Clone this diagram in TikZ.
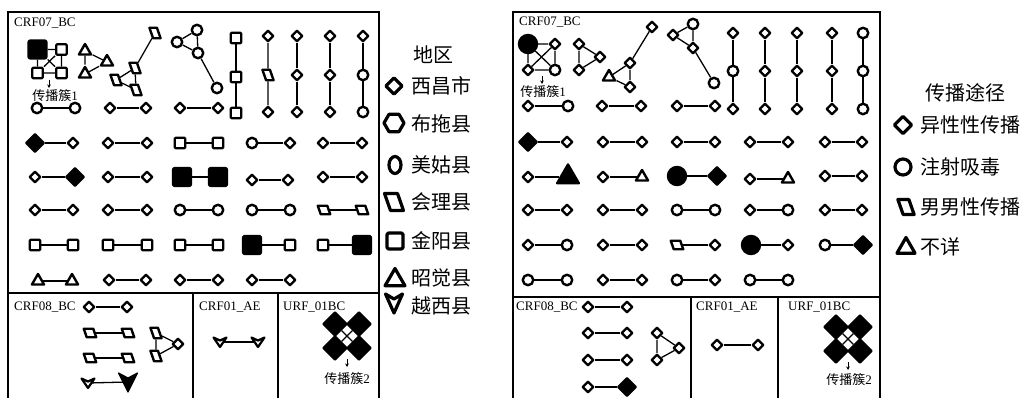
\documentclass[tikz,border=0pt]{standalone}
\usepackage{fontspec}
\setmainfont{Liberation Serif}
\newfontfamily\cjk{Noto Sans CJK SC}
\usetikzlibrary{shapes.geometric,arrows.meta}

\tikzset{
  glyph/.style={draw, line width=2.4pt, fill=white, inner sep=0pt, line join=round},
  dia/.style={glyph, diamond, minimum size=11.5pt},
  fdia/.style={dia, fill=black, minimum size=18.5pt},
  cir/.style={glyph, circle, minimum size=10.5pt},
  fcir/.style={cir, fill=black, minimum size=18pt},
  sq/.style={glyph, rectangle, minimum size=10.5pt, rounded corners=1pt},
  fsq/.style={sq, fill=black, minimum size=18pt, rounded corners=2pt},
  tri/.style={glyph, regular polygon, regular polygon sides=3, minimum size=14pt},
  ftri/.style={tri, fill=black, minimum size=25pt},
  par/.style={glyph, rectangle, minimum width=7.5pt, minimum height=10.5pt, xslant=-0.35},
  parw/.style={par, minimum width=9.5pt, minimum height=8.5pt},
  urf/.style={fdia, minimum size=24pt},
  vcore/.style={circle, inner sep=0pt, minimum size=7pt},
  link/.style={line width=1.3pt},
  pointer/.style={line width=1pt, -{Stealth[length=3.5pt, width=3.5pt]}},
  frame/.style={line width=1.6pt},
  legendline/.style={line width=3.2pt},
  tag/.style={inner sep=0pt, font=\fontsize{13}{13}\selectfont},
  keyhead/.style={inner sep=0pt, font=\fontsize{20}{20}\selectfont\cjk},
  key/.style={keyhead, anchor=west},
  chevron/.pic={
    \draw[line width=2.2pt, line join=round, fill=white]
      (-6.5,-4.5) -- (0,-1.5) -- (6.5,-4.5) -- (0,5) -- cycle;
    \node[vcore] (-c) at (0,0) {};},
  fchevron/.pic={
    \draw[line width=1.2pt, line join=round, fill=black]
      (-9.5,-9) -- (0,-4) -- (9.5,-9) -- (0,10) -- cycle;
    \node[vcore, minimum size=9pt] (-c) at (0,0) {};},
  lchevron/.pic={
    \draw[line width=3.2pt, line join=round, fill=white]
      (-8.5,-9) -- (0,-4) -- (8.5,-9) -- (0,10) -- cycle;
    \node[vcore] (-c) at (0,0) {};},
}

% two linked marks on one row: name, y, x1, style1, x2, style2
\newcommand\linkpair[6]{%
  \node[#4] (#1a) at (#3,#2) {};
  \node[#6] (#1b) at (#5,#2) {};
  \draw[link] (#1a) -- (#1b);}
% three linked marks in one column: name, x, y1, y2, y3, style1, style2, style3
\newcommand\linkcol[8]{%
  \node[#6] (#1a) at (#2,#3) {};
  \node[#7] (#1b) at (#2,#4) {};
  \node[#8] (#1c) at (#2,#5) {};
  \draw[link] (#1a) -- (#1b) -- (#1c);}

\begin{document}
\begin{tikzpicture}[x=1pt,y=-1pt]
\useasboundingbox (0,0) rectangle (1033,398);

%================ 地区 panel ================
\draw[frame] (8,12) rectangle (379,293);
\draw[frame] (8,293) -- (8,398) (193,293) -- (193,398)
             (278,293) -- (278,398) (379,293) -- (379,398);

\node[tag, anchor=west] (Lname07) at (14,23) {CRF07\_BC};

% cluster 1
\node[fsq] (Lk1) at (37.5,49.5) {};
\node[sq]  (Lk2) at (61.5,49.5) {};
\node[sq]  (Lk3) at (37.5,73) {};
\node[sq]  (Lk4) at (61.5,73) {};
\draw[link] (Lk1) -- (Lk2) (Lk3) -- (Lk4) (Lk1) -- (Lk3) (Lk2) -- (Lk4)
            (Lk1) -- (Lk4) (Lk2) -- (Lk3);
\coordinate (LarA) at (49,80);
\coordinate (LarB) at (49,88);
\draw[pointer] (LarA) -- (LarB);
\node[tag] (Lcl1) at (55,96) {{\cjk 传播簇}1};

% triangle group
\node[tri] (Lt1) at (85,51) {};
\node[tri] (Lt2) at (107,62) {};
\node[tri] (Lt3) at (85,74) {};
\draw[link] (Lt1) -- (Lt3) (Lt1) -- (Lt2) (Lt2) -- (Lt3);

% parallelogram group
\node[par] (Lp1) at (155,33) {};
\node[par] (Lp2) at (135,68) {};
\node[par] (Lp3) at (116,80) {};
\node[par] (Lp4) at (136,90) {};
\draw[link] (Lp1) -- (Lp2) (Lp2) -- (Lp3) (Lp2) -- (Lp4) (Lp3) -- (Lp4);

% circle group
\node[cir] (Lo1) at (197,30) {};
\node[cir] (Lo2) at (177,42) {};
\node[cir] (Lo3) at (198,53) {};
\node[cir] (Lo4) at (217,88) {};
\draw[link] (Lo1) -- (Lo2) (Lo1) -- (Lo3) (Lo2) -- (Lo3) (Lo3) -- (Lo4);

% vertical chains
\linkcol{Lc1}{236}{38}{77}{113}{sq}{sq}{sq}
\linkcol{Lc2}{268}{36}{75}{112}{dia}{par}{dia}
\linkcol{Lc3}{297}{36}{75}{112}{dia}{dia}{dia}
\linkcol{Lc4}{330}{36}{75}{112}{dia}{dia}{dia}
\linkcol{Lc5}{363}{36}{75}{112}{dia}{cir}{cir}

% pairs
\linkpair{Lr1}{108}{37}{cir}{75}{cir}
\linkpair{Lr2}{108}{110}{dia}{146}{dia}
\linkpair{Lr3}{108}{180}{dia}{218}{dia}

\linkpair{L11}{143}{35}{fdia}{73}{dia}
\linkpair{L12}{143}{108}{dia}{147}{dia}
\linkpair{L13}{143}{180}{sq}{218}{sq}
\linkpair{L14}{143}{252}{cir}{290}{dia}
\linkpair{L15}{143}{323}{dia}{362}{dia}

\linkpair{L21}{177}{35}{dia}{75}{fdia}
\linkpair{L22}{177}{108}{dia}{147}{dia}
\linkpair{L23}{177}{182}{fsq}{218}{fsq}
\linkpair{L24}{180}{252}{dia}{288}{dia}
\linkpair{L25}{177}{323}{dia}{362}{dia}

\linkpair{L31}{210}{35}{dia}{73}{dia}
\linkpair{L32}{210}{108}{dia}{147}{dia}
\linkpair{L33}{210}{180}{cir}{218}{cir}
\linkpair{L34}{210}{252}{cir}{290}{cir}
\linkpair{L35}{210}{324}{parw}{362}{parw}

\linkpair{L41}{245}{35}{sq}{73}{sq}
\linkpair{L42}{245}{108}{sq}{147}{sq}
\linkpair{L43}{245}{180}{sq}{218}{sq}
\linkpair{L44}{245}{252}{fsq}{290}{sq}
\linkpair{L45}{245}{323}{sq}{362}{fsq}

\linkpair{L51}{281}{38}{tri}{72}{tri}
\linkpair{L52}{280}{109}{dia}{146}{dia}
\linkpair{L53}{280}{180}{dia}{218}{dia}
\linkpair{L54}{280}{252}{dia}{290}{dia}

% CRF08_BC
\node[tag, anchor=west] (Lname08) at (14,307) {CRF08\_BC};
\linkpair{Lb1}{307}{89}{dia}{127}{dia}
\linkpair{Lb2}{333}{90}{parw}{128}{parw}
\linkpair{Lb3}{358}{90}{parw}{128}{parw}
\node[par] (Lq1) at (156,333) {};
\node[par] (Lq2) at (156,356) {};
\node[dia] (Lq3) at (178,344) {};
\draw[link] (Lq1) -- (Lq2) (Lq1) -- (Lq3) (Lq2) -- (Lq3);
\pic (Lv1) at (88,383) {chevron};
\pic (Lv2) at (128,382) {fchevron};
\draw[link] (Lv1-c) -- (Lv2-c);

% CRF01_AE
\node[tag, anchor=west] (Lname01) at (199,307) {CRF01\_AE};
\pic (Lv3) at (220,342) {chevron};
\pic (Lv4) at (258,342) {chevron};
\draw[link] (Lv3-c) -- (Lv4-c);

% URF_01BC
\node[tag, anchor=west] (LnameU) at (283,307) {URF\_01BC};
\node[urf] (Lu1) at (335,324) {};
\node[urf] (Lu2) at (359,324) {};
\node[urf] (Lu3) at (335,348) {};
\node[urf] (Lu4) at (359,348) {};
\draw[link] (Lu1) -- (Lu4) (Lu2) -- (Lu3);
\coordinate (LarC) at (347,359);
\coordinate (LarD) at (347,367);
\draw[pointer] (LarC) -- (LarD);
\node[tag] (Lcl2) at (347,379) {{\cjk 传播簇}2};

% legend 地区
\node[keyhead] (Lhead) at (433,55) {地区};
\node[dia, legendline, minimum size=17.5pt] (Lg1) at (394,86) {};
\node[key] (Lk1t) at (411,86) {西昌市};
\node[glyph, legendline, regular polygon, regular polygon sides=6, minimum size=20pt] (Lg2) at (394,123) {};
\node[key] (Lk2t) at (411,124) {布拖县};
\node[glyph, legendline, ellipse, minimum width=12pt, minimum height=17pt] (Lg3) at (395,165) {};
\node[key] (Lk3t) at (411,165) {美姑县};
\node[par, legendline, minimum width=13pt, minimum height=17pt] (Lg4) at (394,202) {};
\node[key] (Lk4t) at (411,202) {会理县};
\node[sq, legendline, minimum size=16pt, rounded corners=1.5pt] (Lg5) at (395,241) {};
\node[key] (Lk5t) at (411,241) {金阳县};
\node[tri, legendline, minimum size=23pt] (Lg6) at (395,280) {};
\node[key] (Lk6t) at (411,278) {昭觉县};
\pic (Lg7) at (394,303) {lchevron};
\node[key] (Lk7t) at (411,306) {越西县};

%================ 传播途径 panel ================
\draw[frame] (513,12) rectangle (880,297);
\draw[frame] (513,297) -- (513,398) (691,297) -- (691,398)
             (778,297) -- (778,398) (880,297) -- (880,398);

\node[tag, anchor=west] (Rname07) at (519,22) {CRF07\_BC};

% cluster 1
\node[fcir] (Rk1) at (528,44) {};
\node[dia]  (Rk2) at (555,44) {};
\node[dia]  (Rk3) at (528,70) {};
\node[cir]  (Rk4) at (555,70) {};
\draw[link] (Rk1) -- (Rk2) (Rk3) -- (Rk4) (Rk1) -- (Rk3) (Rk2) -- (Rk4)
            (Rk1) -- (Rk4) (Rk2) -- (Rk3);
\coordinate (RarA) at (542,76);
\coordinate (RarB) at (542,84);
\draw[pointer] (RarA) -- (RarB);
\node[tag] (Rcl1) at (543,92) {{\cjk 传播簇}1};

% diamond triangle
\node[dia] (Rt1) at (579,44) {};
\node[dia] (Rt2) at (600,57) {};
\node[dia] (Rt3) at (579,70) {};
\draw[link] (Rt1) -- (Rt3) (Rt1) -- (Rt2) (Rt2) -- (Rt3);

% group with triangle
\node[dia] (Re1) at (652,27) {};
\node[dia] (Re2) at (630,63) {};
\node[tri] (Re3) at (609,77) {};
\node[dia] (Re4) at (630,87) {};
\draw[link] (Re1) -- (Re2) (Re2) -- (Re3) (Re2) -- (Re4) (Re3) -- (Re4);

% group with circles
\node[cir] (Rf1) at (693,24) {};
\node[dia] (Rf2) at (673,35) {};
\node[dia] (Rf3) at (693,48) {};
\node[cir] (Rf4) at (714,83) {};
\draw[link] (Rf1) -- (Rf2) (Rf1) -- (Rf3) (Rf2) -- (Rf3) (Rf3) -- (Rf4);

% vertical chains
\linkcol{Rc1}{733}{33}{71}{109}{dia}{cir}{dia}
\linkcol{Rc2}{765}{33}{71}{109}{dia}{dia}{dia}
\linkcol{Rc3}{797}{33}{71}{109}{dia}{dia}{dia}
\linkcol{Rc4}{832}{33}{71}{109}{dia}{dia}{dia}
\linkcol{Rc5}{863}{33}{71}{109}{cir}{cir}{cir}

% pairs
\linkpair{Rr1}{106}{528}{dia}{568}{cir}
\linkpair{Rr2}{106}{602}{dia}{641}{dia}
\linkpair{Rr3}{106}{677}{dia}{715}{dia}

\linkpair{R11}{142}{528}{fdia}{567}{dia}
\linkpair{R12}{142}{603}{dia}{642}{dia}
\linkpair{R13}{142}{677}{dia}{715}{dia}
\linkpair{R14}{142}{750}{dia}{788}{dia}
\linkpair{R15}{142}{825}{dia}{862}{dia}

\linkpair{R21}{177}{528}{dia}{568}{ftri}
\linkpair{R22}{177}{603}{dia}{642}{tri}
\linkpair{R23}{176}{677}{fcir}{717}{fdia}
\linkpair{R24}{179}{750}{dia}{788}{tri}
\linkpair{R25}{176}{825}{dia}{862}{dia}

\linkpair{R31}{210}{528}{dia}{567}{dia}
\linkpair{R32}{210}{603}{dia}{642}{dia}
\linkpair{R33}{210}{677}{cir}{715}{cir}
\linkpair{R34}{210}{750}{dia}{788}{cir}
\linkpair{R35}{210}{825}{dia}{862}{dia}

\linkpair{R41}{245}{528}{dia}{567}{cir}
\linkpair{R42}{245}{603}{dia}{642}{dia}
\linkpair{R43}{245}{677}{parw}{715}{dia}
\linkpair{R44}{245}{751}{fcir}{788}{dia}
\linkpair{R45}{245}{825}{cir}{863}{fdia}

\linkpair{R51}{280}{528}{cir}{567}{cir}
\linkpair{R52}{280}{603}{dia}{642}{dia}
\linkpair{R53}{280}{677}{cir}{715}{dia}
\linkpair{R54}{280}{750}{cir}{788}{cir}

% CRF08_BC
\node[tag, anchor=west] (Rname08) at (516,307) {CRF08\_BC};
\linkpair{Rb1}{307}{588}{dia}{627}{dia}
\linkpair{Rb2}{333}{588}{dia}{627}{dia}
\linkpair{Rb3}{360}{588}{dia}{627}{dia}
\linkpair{Rb4}{387}{588}{dia}{627}{fdia}
\node[dia] (Rq1) at (657,333) {};
\node[dia] (Rq2) at (657,360) {};
\node[dia] (Rq3) at (679,348) {};
\draw[link] (Rq1) -- (Rq2) (Rq1) -- (Rq3) (Rq2) -- (Rq3);

% CRF01_AE
\node[tag, anchor=west] (Rname01) at (696,307) {CRF01\_AE};
\linkpair{Rb5}{345}{717}{dia}{758}{dia}

% URF_01BC
\node[tag, anchor=west] (RnameU) at (788,307) {URF\_01BC};
\node[urf] (Ru1) at (836,327) {};
\node[urf] (Ru2) at (860,327) {};
\node[urf] (Ru3) at (836,351) {};
\node[urf] (Ru4) at (860,351) {};
\draw[link] (Ru1) -- (Ru4) (Ru2) -- (Ru3);
\coordinate (RarC) at (848,362);
\coordinate (RarD) at (848,370);
\draw[pointer] (RarC) -- (RarD);
\node[tag] (Rcl2) at (849,380) {{\cjk 传播簇}2};

% legend 传播途径
\node[keyhead] (Rhead) at (965,93) {传播途径};
\node[dia, legendline, minimum size=18.5pt] (Rg1) at (903,125) {};
\node[key] (Rk1t) at (920,125) {异性性传播};
\node[cir, legendline, minimum size=16pt] (Rg2) at (903,167) {};
\node[key] (Rk2t) at (920,167) {注射吸毒};
\node[par, legendline, minimum width=11pt, minimum height=15pt] (Rg3) at (906,207) {};
\node[key] (Rk3t) at (920,207) {男男性传播};
\node[tri, legendline, minimum size=21pt] (Rg4) at (906,248) {};
\node[key] (Rk4t) at (920,247) {不详};
\end{tikzpicture}
\end{document}
